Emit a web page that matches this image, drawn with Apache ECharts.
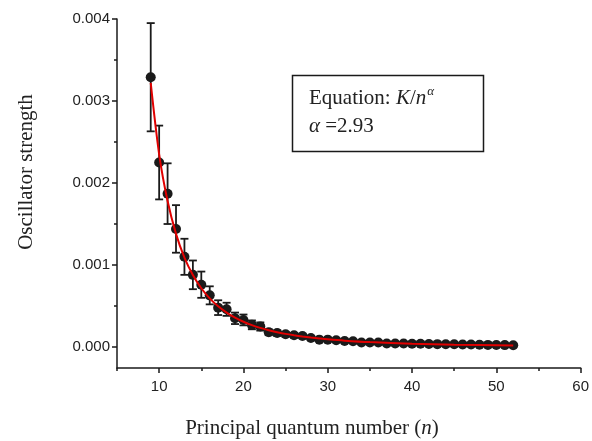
<!DOCTYPE html>
<html>
<head>
<meta charset="utf-8">
<script src="https://cdn.jsdelivr.net/npm/echarts@6/dist/echarts.min.js"></script>
<style>
html,body{margin:0;padding:0;background:#fff;}
#chart{width:592px;height:441px;}
</style>
</head>
<body>
<div id="chart"></div>
<script>
// Principal quantum number n
var nValues = [9,10,11,12,13,14,15,16,17,18,19,20,21,22,23,24,25,26,27,28,29,30,
  31,32,33,34,35,36,37,38,39,40,41,42,43,44,45,46,47,48,49,50,51,52];
// Oscillator strength
var strength = [0.00329,0.00225,0.00187,0.00144,0.00110,0.00088,0.00076,0.00063,0.00048,0.00046,
  0.00035,0.00033,0.00027,0.00025,0.00018,0.00017,0.000155,0.000143,0.000134,0.00011,
  0.00009,0.00009,0.000082,0.000074,0.00007,0.000055,0.000055,0.000055,0.000043,0.000043,
  0.000042,0.00004,0.00004,0.000036,0.000035,0.000033,0.000033,0.00003,0.00003,0.000028,
  0.000026,0.000025,0.000023,0.000022];
// Error (± half-length of bars)
var errors = [0.00066,0.00045,0.00037,0.00029,0.00022,0.000175,0.00016,0.00011,0.00009,0.00008,
  0.00007,0.000066,0.000054,0.00005,0.000036,0.000034,0.00003,0.000029,0.000027,0.000022,
  0.000018,0.000018,0.000016,0.000015,0.000014,0.000011,0.000011,0.000011,0.000009,0.000009,
  0.000008,0.000008,0.000008,0.000007,0.000007,0.000007,0.000007,0.000006,0.000006,0.000006,
  0.000005,0.000005,0.000005,0.000004];
var fitN = [9,10,11,12,13,14,15,16,17,18,19,20,21,22,23,24,25,26,27,28,29,30,32,35,40,45,52];
var fitValues = [0.00322,0.00235,0.00178,0.00138,0.00109,0.000878,0.000717,0.000593,0.000496,0.000420,
  0.000358,0.000308,0.000267,0.000233,0.000205,0.000181,0.000160,0.000143,0.000128,0.000115,
  0.000104,0.0000939,0.0000777,0.0000598,0.0000404,0.0000286,0.0000188];
var xMajorTicks = [10,20,30,40,50,60];
var xMinorTicks = [5,15,25,35,45,55];
var yMajorTicks = [0,0.001,0.002,0.003,0.004];
var yMinorTicks = [0.0005,0.0015,0.0025,0.0035];
var alphaText = '2.93';

var chart = echarts.init(document.getElementById('chart'), null, {renderer:'canvas'});

var pts = nValues.map(function(n,i){return [n, strength[i]];});
var errData = nValues.map(function(n,i){return [n, strength[i]-errors[i], strength[i]+errors[i]];});
var fitData = fitN.map(function(n,i){return [n, fitValues[i]];});

var sansFont = '"Liberation Sans", Arial, sans-serif';
var serifFont = '"Liberation Serif", "Times New Roman", serif';
var textColor = '#222';

function xAxisCfg(ticks, len, showLabel, show){
  return {
    type:'value', min:5, max:60, gridIndex:0, position:'bottom',
    axisLine:{show:show, onZero:false, lineStyle:{color:'#1a1a1a', width:1.5}},
    axisTick:{show:true, inside:false, length:len, customValues:ticks, lineStyle:{color:'#1a1a1a', width:1.5}},
    axisLabel:{show:showLabel, customValues:ticks, color:textColor, fontFamily:sansFont, fontSize:15, margin:11},
    splitLine:{show:false}
  };
}
function yAxisCfg(ticks, len, showLabel, show){
  return {
    type:'value', min:-0.000256, max:0.004, gridIndex:0, position:'left',
    axisLine:{show:show, onZero:false, lineStyle:{color:'#1a1a1a', width:1.5}},
    axisTick:{show:true, inside:false, length:len, customValues:ticks, lineStyle:{color:'#1a1a1a', width:1.5}},
    axisLabel:{show:showLabel, customValues:ticks, color:textColor, fontFamily:sansFont, fontSize:15, margin:7,
      formatter:function(v){return v.toFixed(3);}},
    splitLine:{show:false}
  };
}

var option = {
  backgroundColor:'#fff',
  animation:false,
  grid:{left:117, right:9, top:19, bottom:73, containLabel:false},
  xAxis:[xAxisCfg(xMajorTicks,5,true,true), xAxisCfg(xMinorTicks,3,false,false)],
  yAxis:[yAxisCfg(yMajorTicks,5,true,true), yAxisCfg(yMinorTicks,3,false,false)],
  graphic:[
    {type:'text', x:312, y:428,
      style:{text:'{r|Principal quantum number (}{i|n}{r|)}', align:'center', verticalAlign:'middle',
        rich:{
          r:{fontFamily:serifFont, fontSize:21, fill:textColor},
          i:{fontFamily:serifFont, fontSize:21, fontStyle:'italic', fill:textColor}
        }}, silent:true},
    {type:'text', x:26, y:172, rotation:Math.PI/2,
      style:{text:'Oscillator strength', fill:textColor, font:'21px '+serifFont, align:'center', verticalAlign:'middle'}, silent:true},
    {type:'rect', shape:{x:292.5, y:75.5, width:191, height:76}, z:100,
      style:{fill:'#fff', stroke:'#1a1a1a', lineWidth:1.5}, silent:true},
    {type:'text', x:309, y:98, z:101,
      style:{text:'{r|Equation: }{i|K}{r|/}{i|n}{s|\u03B1}', verticalAlign:'middle',
        rich:{
          r:{fontFamily:serifFont, fontSize:21, fill:textColor, lineHeight:24},
          i:{fontFamily:serifFont, fontSize:21, fontStyle:'italic', fill:textColor, lineHeight:24},
          s:{fontFamily:serifFont, fontSize:13, fontStyle:'italic', fill:textColor, lineHeight:24, padding:[0,0,12,1]}
        }}, silent:true},
    {type:'text', x:309, y:126, z:101,
      style:{text:'{i|\u03B1}{r| =' + alphaText + '}', verticalAlign:'middle',
        rich:{
          r:{fontFamily:serifFont, fontSize:21, fill:textColor},
          i:{fontFamily:serifFont, fontSize:21, fontStyle:'italic', fill:textColor}
        }}, silent:true}
  ],
  series:[
    {
      type:'custom', name:'err', xAxisIndex:0, yAxisIndex:0, z:2,
      data:errData,
      encode:{x:0, y:[1,2]},
      renderItem:function(params, api){
        var n = api.value(0);
        var lo = api.coord([n, api.value(1)]);
        var hi = api.coord([n, api.value(2)]);
        var hw = 4;
        var st = {stroke:'#1a1a1a', lineWidth:1.8};
        return {type:'group', children:[
          {type:'line', shape:{x1:lo[0], y1:lo[1], x2:hi[0], y2:hi[1]}, style:st},
          {type:'line', shape:{x1:lo[0]-hw, y1:lo[1], x2:lo[0]+hw, y2:lo[1]}, style:st},
          {type:'line', shape:{x1:hi[0]-hw, y1:hi[1], x2:hi[0]+hw, y2:hi[1]}, style:st}
        ]};
      }
    },
    {
      type:'scatter', name:'data', xAxisIndex:0, yAxisIndex:0, z:3,
      data:pts, symbol:'circle', symbolSize:10,
      itemStyle:{color:'#1a1a1a', opacity:1}
    },
    {
      type:'line', name:'fit', xAxisIndex:0, yAxisIndex:0, z:4,
      data:fitData, smooth:0.3, showSymbol:false, symbol:'none',
      lineStyle:{color:'#e00000', width:2}
    }
  ]
};
chart.setOption(option);
</script>
</body>
</html>
